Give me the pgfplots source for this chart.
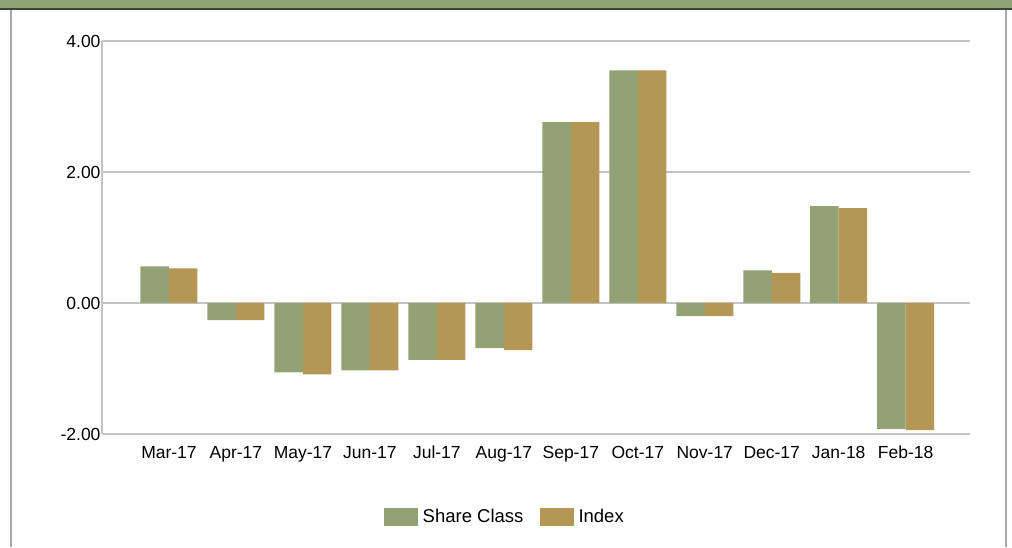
\documentclass[border=0pt]{standalone}
\usepackage{pgfplots}
\pgfplotsset{compat=1.18}
\usepackage{fontspec}
\setmainfont{Liberation Sans}
\definecolor{shgreen}{HTML}{93A274}
\definecolor{idxtan}{HTML}{B59755}
\definecolor{hdrgreen}{HTML}{8FA374}
\definecolor{hdrdark}{HTML}{3C4432}
\definecolor{gridgray}{HTML}{C4C4C4}
\definecolor{framegray}{HTML}{A8A8A8}
\begin{document}
\begin{tikzpicture}[x=1pt,y=1pt]
\useasboundingbox (0,0) rectangle (1012,547);
\fill[hdrgreen] (0,538.5) rectangle (1012,547);
\fill[hdrdark] (0,537) rectangle (1012,538.8);
\draw[framegray, line width=1.2pt] (11,0) -- (11,537);
\draw[framegray, line width=1.2pt] (1006,0) -- (1006,537);
\begin{axis}[
  at={(102pt,113pt)}, anchor=south west,
  scale only axis, width=868pt, height=393pt,
  ymin=-2, ymax=4, xmin=-1, xmax=11.96,
  ytick={-2,0,2,4},
  xtick={0,...,11},
  xticklabels={Mar-17,Apr-17,May-17,Jun-17,Jul-17,Aug-17,Sep-17,Oct-17,Nov-17,Dec-17,Jan-18,Feb-18},
  ybar, bar width=28.5pt,
  ymajorgrids, grid style={gridgray, line width=1.5pt},
  axis x line*=bottom, axis y line*=left,
  x axis line style={draw=none},
  y axis line style={gridgray, line width=1.5pt, -},
  major tick length=0pt,
  tick label style={font=\fontsize{17.5}{20}\selectfont, text=black},
  /pgf/number format/assume math mode=true,
  yticklabel={\pgfmathprintnumber[fixed,fixed zerofill,precision=2]{\tick}},
  yticklabel style={xshift=2pt},
  xticklabel style={yshift=-8pt, text height=12.5pt, text depth=3.5pt},
  legend style={at={(0.464,-0.211)}, anchor=center, draw=none, fill=none,
    legend columns=2, font=\fontsize{18.5}{21}\selectfont,
    /tikz/every odd column/.append style={column sep=3pt},
    /tikz/every even column/.append style={column sep=14pt}},
  legend cell align=left,
]
\addplot[fill=shgreen, draw=none, bar shift=-14.25pt,
  legend image code/.code={\fill[shgreen] (0pt,-9pt) rectangle (34pt,9pt);}]
  coordinates {(0,0.56) (1,-0.26) (2,-1.06) (3,-1.03) (4,-0.87) (5,-0.69) (6,2.76) (7,3.55) (8,-0.20) (9,0.50) (10,1.48) (11,-1.92)};
\addlegendentry{Share Class}
\addplot[fill=idxtan, draw=none, bar shift=14.25pt,
  legend image code/.code={\fill[idxtan] (0pt,-9pt) rectangle (34pt,9pt);}]
  coordinates {(0,0.53) (1,-0.26) (2,-1.09) (3,-1.03) (4,-0.87) (5,-0.72) (6,2.76) (7,3.55) (8,-0.20) (9,0.46) (10,1.45) (11,-1.94)};
\addlegendentry{Index}
\end{axis}
\end{tikzpicture}
\end{document}
